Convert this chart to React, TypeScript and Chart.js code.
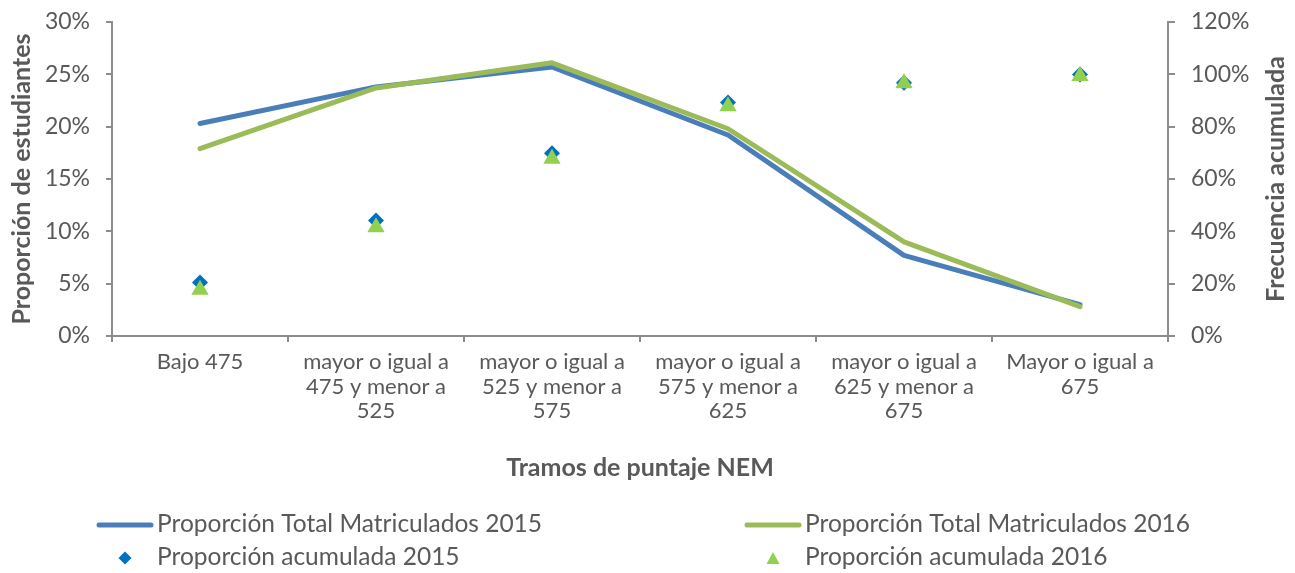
import React, { useEffect, useRef } from "react";
import { Chart, registerables } from "chart.js";

Chart.register(...registerables);

const categories: string[][] = [
  ["Bajo 475"],
  ["mayor o igual a", "475 y menor a", "525"],
  ["mayor o igual a", "525 y menor a", "575"],
  ["mayor o igual a", "575 y menor a", "625"],
  ["mayor o igual a", "625 y menor a", "675"],
  ["Mayor o igual a", "675"],
];

const proporcion2015 = [20.3, 23.8, 25.7, 19.2, 7.7, 3.0];
const proporcion2016 = [17.9, 23.7, 26.1, 19.8, 9.0, 2.8];
const acumulada2015 = [20.4, 44.1, 69.8, 89.2, 96.8, 99.9];
const acumulada2016 = [17.7, 41.6, 67.7, 87.8, 96.6, 99.4];

const seriesNames = [
  "Proporción Total Matriculados 2015",
  "Proporción Total Matriculados 2016",
  "Proporción acumulada 2015",
  "Proporción acumulada 2016",
];

const leftTicks = [0, 5, 10, 15, 20, 25, 30];
const rightTicks = [0, 20, 40, 60, 80, 100, 120];

const xTitle = "Tramos de puntaje NEM";
const yTitle = "Proporción de estudiantes";
const y1Title = "Frecuencia acumulada";

const FONT = "Lato";
const TEXT = "#595959";
const AXIS = "#8c8c8c";
const BLUE_LINE = "#4a7ebb";
const GREEN_LINE = "#9bbb59";
const BLUE_MARK = "#0070c0";
const GREEN_MARK = "#92d050";

function diamond(ctx: CanvasRenderingContext2D, x: number, y: number, rx: number, ry: number) {
  ctx.beginPath();
  ctx.moveTo(x, y - ry);
  ctx.lineTo(x + rx, y);
  ctx.lineTo(x, y + ry);
  ctx.lineTo(x - rx, y);
  ctx.closePath();
  ctx.fill();
}

function triangle(ctx: CanvasRenderingContext2D, x: number, y: number, w: number, h: number) {
  ctx.beginPath();
  ctx.moveTo(x, y - h / 2);
  ctx.lineTo(x + w / 2, y + h / 2);
  ctx.lineTo(x - w / 2, y + h / 2);
  ctx.closePath();
  ctx.fill();
}

const overlayPlugin = {
  id: "overlay",
  afterDraw(chart: any) {
    const ctx: CanvasRenderingContext2D = chart.ctx;
    ctx.save();
    // right axis title (reads bottom to top)
    const ca = chart.chartArea;
    ctx.fillStyle = TEXT;
    ctx.font = `bold 25px ${FONT}`;
    ctx.textAlign = "center";
    ctx.textBaseline = "middle";
    ctx.translate(1276, (ca.top + ca.bottom) / 2);
    ctx.rotate(-Math.PI / 2);
    ctx.fillText(y1Title, 0, 0);
    ctx.restore();

    // legend
    ctx.save();
    ctx.font = `24.5px ${FONT}`;
    ctx.textBaseline = "middle";
    ctx.textAlign = "left";
    const cols = [97, 745];
    const rows = [524, 557];
    const lineW = 56;
    [BLUE_LINE, GREEN_LINE].forEach((c, i) => {
      ctx.strokeStyle = c;
      ctx.lineWidth = 5;
      ctx.lineCap = "round";
      ctx.beginPath();
      ctx.moveTo(cols[i] + 2, rows[0] + 1);
      ctx.lineTo(cols[i] + lineW - 2, rows[0] + 1);
      ctx.stroke();
      ctx.fillStyle = TEXT;
      ctx.fillText(seriesNames[i], cols[i] + lineW + 4, rows[0]);
    });
    ctx.fillStyle = BLUE_MARK;
    diamond(ctx, cols[0] + lineW / 2, rows[1] + 1, 6.5, 6.5);
    ctx.fillStyle = GREEN_MARK;
    triangle(ctx, cols[1] + lineW / 2, rows[1] + 1, 13, 12);
    ctx.fillStyle = TEXT;
    ctx.fillText(seriesNames[2], cols[0] + lineW + 4, rows[1]);
    ctx.fillText(seriesNames[3], cols[1] + lineW + 4, rows[1]);
    ctx.restore();
  },
};

export default function App() {
  const ref = useRef<HTMLCanvasElement | null>(null);
  useEffect(() => {
    document.body.style.margin = "0";
    if (!ref.current) return;
    const chart = new Chart(ref.current, {
      type: "line",
      data: {
        labels: categories as any,
        datasets: [
          {
            label: seriesNames[0],
            data: proporcion2015,
            borderColor: BLUE_LINE,
            backgroundColor: BLUE_LINE,
            borderWidth: 5,
            pointRadius: 0,
            borderCapStyle: "round",
            borderJoinStyle: "round",
            yAxisID: "y",
            order: 3,
          },
          {
            label: seriesNames[1],
            data: proporcion2016,
            borderColor: GREEN_LINE,
            backgroundColor: GREEN_LINE,
            borderWidth: 5,
            pointRadius: 0,
            borderCapStyle: "round",
            borderJoinStyle: "round",
            yAxisID: "y",
            order: 2,
          },
          {
            label: seriesNames[2],
            data: acumulada2015,
            showLine: false,
            pointStyle: "rectRot",
            pointRadius: 8,
            pointBorderWidth: 0,
            pointBackgroundColor: BLUE_MARK,
            pointBorderColor: BLUE_MARK,
            yAxisID: "y1",
            order: 1,
          },
          {
            label: seriesNames[3],
            data: acumulada2016,
            showLine: false,
            pointStyle: "triangle",
            pointRadius: 10,
            pointBorderWidth: 0,
            pointBackgroundColor: GREEN_MARK,
            pointBorderColor: GREEN_MARK,
            yAxisID: "y1",
            order: 0,
          },
        ],
      },
      options: {
        responsive: false,
        animation: false,
        layout: { padding: { top: 22, left: 0, right: 0, bottom: 87 } },
        plugins: { legend: { display: false }, tooltip: { enabled: false } },
        scales: {
          x: {
            type: "category",
            offset: true,
            grid: {
              display: true,
              drawOnChartArea: false,
              drawTicks: true,
              tickLength: 6,
              color: AXIS,
              lineWidth: 2,
              offset: true,
            },
            border: { display: true, color: AXIS, width: 2 },
            ticks: {
              color: TEXT,
              font: { family: FONT, size: 22, lineHeight: 1.11 },
              padding: 8,
              maxRotation: 0,
              autoSkip: false,
            },
            title: {
              display: true,
              text: xTitle,
              color: TEXT,
              font: { family: FONT, size: 25, weight: "bold", lineHeight: 1.2 },
              padding: { top: 0, bottom: 3 },
            },
            afterFit(s: any) {
              s.height = 150;
              s.paddingLeft = 0;
              s.paddingRight = 0;
            },
          },
          y: {
            position: "left",
            min: 0,
            max: 30,
            afterBuildTicks(s: any) {
              s.ticks = leftTicks.map((v) => ({ value: v }));
            },
            grid: {
              display: true,
              drawOnChartArea: false,
              drawTicks: true,
              tickLength: 6,
              color: AXIS,
              lineWidth: 2,
            },
            border: { display: true, color: AXIS, width: 2 },
            ticks: {
              color: TEXT,
              font: { family: FONT, size: 23 },
              padding: 16,
              callback: (v: any) => `${v}%`,
            },
            title: {
              display: true,
              text: yTitle,
              color: TEXT,
              font: { family: FONT, size: 25, weight: "bold", lineHeight: 1.2 },
              padding: { top: 7, bottom: 0 },
            },
            afterFit(s: any) {
              s.width = 112;
              s.paddingTop = 0;
              s.paddingBottom = 0;
            },
          },
          y1: {
            position: "right",
            min: 0,
            max: 120,
            afterBuildTicks(s: any) {
              s.ticks = rightTicks.map((v) => ({ value: v }));
            },
            grid: {
              display: true,
              drawOnChartArea: false,
              drawTicks: true,
              tickLength: 7,
              color: AXIS,
              lineWidth: 2,
            },
            border: { display: true, color: AXIS, width: 2 },
            ticks: {
              color: TEXT,
              font: { family: FONT, size: 23 },
              padding: 16,
              callback: (v: any) => `${v}%`,
            },
            afterFit(s: any) {
              s.width = 127;
              s.paddingTop = 0;
              s.paddingBottom = 0;
            },
          },
        },
      },
      plugins: [overlayPlugin],
    } as any);
    return () => chart.destroy();
  }, []);
  return <canvas ref={ref} width={1295} height={573} style={{ display: "block", width: 1295, height: 573 }} />;
}
